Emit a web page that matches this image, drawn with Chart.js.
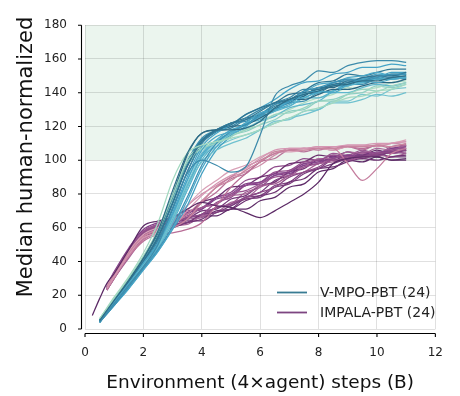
<!DOCTYPE html>
<html><head><meta charset="utf-8">
<script src="https://cdn.jsdelivr.net/npm/chart.js@4/dist/chart.umd.min.js"></script>
<style>html,body{margin:0;padding:0;background:#fff;}</style>
</head><body>
<canvas id="c" width="460" height="396"></canvas>
<script>
// ---------------- data ----------------
const seriesLabels = ['V-MPO-PBT (24)', 'IMPALA-PBT (24)'];
const xTicks = [0, 2, 4, 6, 8, 10, 12];
const yTicks = [0, 20, 40, 60, 80, 100, 120, 140, 160, 180];
const shadeRange = [100, 180];
const xTitle = 'Environment (4\u00d7agent) steps (B)';
const yTitle = 'Median human-normalized';

const vmpoSteps = [0.5, 1, 1.5, 2, 2.5, 3, 3.5, 4, 4.5, 5, 5.5, 6, 6.5, 7, 7.5, 8, 8.5, 9, 9.5, 10, 10.5, 11];
const vmpoRuns = [
  [5, 17, 29, 42, 58, 82, 104, 116, 118, 118, 119, 123, 131, 136, 139, 141, 144, 145, 147, 147, 149, 150],
  [4, 15, 26, 37, 50, 72, 92, 100, 97, 93, 96, 115, 138, 144, 147, 153, 152, 156, 158, 159, 159, 158],
  [6, 19, 31, 45, 63, 88, 104, 109, 111, 113, 115, 118, 122, 125, 129, 131, 134, 137, 138, 141, 142, 145],
  [5, 16, 27, 39, 51, 68, 88, 106, 114, 117, 122, 128, 130, 133, 139, 141, 140, 145, 147, 146, 148, 149],
  [4, 14, 25, 36, 47, 61, 78, 97, 110, 117, 121, 127, 133, 135, 141, 143, 146, 148, 147, 149, 151, 151],
  [5, 16, 28, 40, 54, 74, 96, 111, 118, 121, 127, 131, 134, 139, 140, 142, 145, 146, 149, 150, 150, 152],
  [5, 16, 27, 38, 49, 64, 84, 99, 106, 110, 113, 118, 122, 125, 127, 130, 134, 134, 136, 139, 138, 140],
  [6, 18, 30, 43, 58, 79, 99, 107, 110, 114, 118, 121, 127, 128, 131, 135, 135, 139, 142, 141, 144, 146],
  [4, 14, 24, 35, 46, 60, 76, 95, 108, 115, 120, 127, 131, 135, 140, 145, 146, 149, 150, 152, 150, 152],
  [5, 16, 28, 40, 55, 75, 97, 112, 118, 122, 124, 129, 134, 136, 141, 146, 147, 151, 150, 152, 154, 154],
  [5, 15, 27, 38, 51, 69, 90, 108, 116, 121, 127, 131, 136, 142, 146, 147, 151, 152, 155, 155, 157, 156],
  [5, 17, 29, 42, 57, 79, 103, 116, 118, 120, 121, 125, 130, 136, 136, 139, 142, 142, 144, 146, 146, 148],
  [4, 15, 26, 37, 48, 63, 82, 100, 110, 116, 121, 125, 129, 132, 137, 137, 141, 144, 146, 148, 148, 150],
  [5, 16, 27, 38, 50, 67, 88, 104, 112, 116, 119, 123, 126, 131, 133, 135, 140, 140, 143, 145, 144, 146],
  [6, 18, 30, 43, 59, 80, 101, 108, 111, 115, 118, 123, 127, 130, 134, 137, 139, 143, 142, 143, 146, 147],
  [5, 16, 28, 40, 53, 71, 93, 110, 117, 120, 125, 130, 134, 137, 142, 142, 146, 147, 147, 150, 149, 150],
  [4, 15, 26, 37, 48, 64, 84, 102, 111, 116, 122, 124, 130, 132, 137, 140, 141, 146, 146, 149, 148, 149],
  [5, 17, 29, 42, 56, 76, 97, 106, 111, 115, 117, 121, 124, 129, 130, 135, 136, 139, 140, 144, 143, 145],
  [5, 16, 27, 39, 52, 71, 93, 110, 117, 122, 125, 127, 133, 136, 138, 143, 143, 147, 146, 148, 149, 148],
  [4, 14, 24, 35, 46, 59, 73, 92, 106, 114, 120, 126, 129, 135, 137, 141, 145, 145, 149, 149, 152, 152],
  [5, 16, 28, 41, 55, 76, 99, 113, 118, 122, 123, 128, 130, 134, 135, 140, 141, 145, 145, 148, 148, 149],
  [5, 16, 27, 38, 50, 66, 86, 102, 108, 112, 115, 118, 123, 124, 129, 130, 135, 135, 139, 138, 142, 143],
  [4, 15, 26, 37, 49, 65, 85, 103, 112, 118, 121, 127, 130, 136, 138, 143, 144, 148, 148, 151, 150, 151],
  [5, 16, 28, 41, 56, 77, 99, 112, 117, 119, 124, 126, 132, 134, 139, 140, 144, 144, 148, 148, 151, 151]
];

const impalaSteps = [0.25, 0.5, 0.75, 1, 1.5, 2, 2.5, 3, 3.5, 4, 4.5, 5, 5.5, 6, 6.5, 7, 7.5, 8, 8.5, 9, 9.5, 10, 10.5, 11];
const impalaRuns = [
  [8, 18, 27, 33, 47, 61, 64, 66, 71, 75, 73, 72, 69, 66, 70, 75, 80, 87, 98, 101, 102, 102, 100, 100],
  [null, null, 24, 31, 44, 54, 57, 61, 70, 79, 86, 91, 95, 101, 106, 107, 107, 108, 108, 109, 109, 110, 110, 111],
  [null, null, 25, 32, 45, 55, 58, 60, 65, 75, 84, 88, 94, 99, 105, 106, 106, 107, 107, 108, 108, 109, 108, 110],
  [null, null, 23, 30, 43, 53, 58, 62, 68, 76, 84, 90, 96, 100, 104, 106, 107, 107, 107, 98, 88, 95, 104, 107],
  [null, null, 26, 33, 46, 56, 60, 63, 73, 82, 88, 94, 97, 102, 105, 105, 106, 107, 106, 108, 108, 109, 110, 112],
  [null, null, 24, 31, 43, 52, 56, 57, 59, 63, 73, 84, 92, 99, 104, 106, 107, 106, 108, 108, 107, 109, 110, 109],
  [null, null, 25, 32, 45, 55, 59, 64, 73, 80, 85, 90, 93, 97, 103, 107, 107, 108, 107, 109, 109, 108, 110, 111],
  [null, null, 25, 32, 46, 57, 61, 63, 66, 68, 72, 74, 78, 81, 84, 90, 93, 96, 101, 102, 102, 104, 105, 106],
  [null, null, 24, 31, 45, 56, 60, 62, 63, 68, 69, 73, 77, 78, 84, 86, 92, 95, 98, 101, 103, 103, 105, 106],
  [null, null, 26, 33, 47, 58, 62, 65, 67, 72, 74, 80, 82, 86, 90, 91, 96, 98, 100, 100, 102, 104, 104, 105],
  [null, null, 23, 30, 43, 54, 58, 60, 63, 65, 70, 71, 76, 79, 81, 87, 89, 95, 96, 99, 101, 100, 102, 103],
  [null, null, 25, 32, 46, 57, 61, 65, 66, 72, 74, 79, 80, 85, 86, 91, 93, 98, 99, 102, 101, 103, 102, 104],
  [null, null, 26, 34, 48, 59, 63, 66, 70, 72, 78, 80, 86, 87, 92, 93, 98, 99, 101, 103, 102, 105, 105, 107],
  [null, null, 24, 31, 44, 55, 59, 62, 66, 68, 75, 78, 85, 87, 93, 94, 99, 100, 103, 102, 105, 104, 106, 108],
  [null, null, 25, 32, 45, 56, 60, 63, 65, 70, 71, 77, 79, 85, 87, 93, 95, 100, 100, 103, 101, 104, 102, 102],
  [null, null, 23, 30, 42, 53, 57, 61, 62, 67, 69, 75, 77, 84, 87, 94, 96, 101, 101, 105, 104, 107, 106, 109],
  [null, null, 25, 33, 46, 57, 61, 64, 69, 71, 77, 79, 85, 86, 91, 92, 97, 98, 102, 101, 104, 103, 107, 108],
  [null, null, 24, 32, 45, 56, 60, 61, 65, 66, 72, 74, 81, 84, 91, 93, 98, 99, 104, 103, 106, 104, 107, 107],
  [null, null, 26, 33, 47, 58, 62, 66, 68, 75, 78, 84, 85, 90, 92, 98, 99, 103, 102, 105, 103, 106, 104, 106],
  [null, null, 25, 32, 46, 57, 60, 62, 63, 67, 67, 71, 71, 76, 78, 84, 86, 93, 95, 100, 99, 102, 100, 101],
  [null, null, 24, 31, 44, 55, 59, 62, 66, 67, 72, 73, 78, 79, 85, 87, 93, 95, 100, 100, 103, 102, 105, 104],
  [null, null, 25, 32, 46, 56, 60, 64, 66, 75, 81, 89, 92, 99, 101, 106, 105, 107, 106, 108, 106, 109, 107, 109],
  [null, null, 26, 33, 47, 57, 61, 63, 69, 71, 78, 81, 88, 90, 96, 97, 101, 100, 103, 102, 105, 104, 108, 109],
  [null, null, 24, 31, 44, 55, 59, 60, 64, 64, 69, 71, 78, 81, 88, 91, 97, 98, 102, 101, 104, 103, 106, 106]
];

// ---------------- styles ----------------
const FONT = "'DejaVu Sans', 'Liberation Sans', sans-serif";
const vmpoColors = ['#2e6d87','#3d8bab','#a3d9c0','#49a6c6','#3c91b4','#2f7391','#6fc1cf','#9ad4c0',
  '#4aa8c9','#327a98','#45a3c7','#2b6682','#56b2cc','#5fb7cd','#acdcc4','#3a88a9',
  '#4fadca','#8ecfc3','#2c6a85','#42a0c3','#3b8eb0','#7ac6d0','#4aa6c7','#35809f'];
const impalaColors = ['#5c2a66','#d597b3','#c9859f','#c47c9d','#d9a1b7','#b86d96','#cf8fab',
  '#8c4a87','#7b3d7d','#9a5590','#6e3272','#a35f93','#85428a','#934d8c','#743778','#a8679a',
  '#80408a','#9b5892','#6a2f6e','#5e2b68','#7e3f80','#b77399','#8f4b8b','#713576'];
const legendColors = ['#387b93', '#7d4581'];

function toPoints(xs, ys) { return xs.map((x, i) => ({x: x, y: ys[i]})); }

const datasets = [];
vmpoRuns.forEach((r, i) => datasets.push({
  data: toPoints(vmpoSteps, r), borderColor: vmpoColors[i], borderWidth: 1.25,
  pointRadius: 0, cubicInterpolationMode: 'monotone', fill: false
}));
impalaRuns.forEach((r, i) => datasets.push({
  data: toPoints(impalaSteps, r), borderColor: impalaColors[i], borderWidth: 1.25,
  pointRadius: 0, cubicInterpolationMode: 'monotone', fill: false
}));

const decor = {
  id: 'decor',
  beforeDraw(chart) {
    const {ctx, chartArea: a, scales: {y}} = chart;
    ctx.save();
    ctx.fillStyle = '#ffffff';
    ctx.fillRect(0, 0, chart.width, chart.height);
    const yt = y.getPixelForValue(shadeRange[1]);
    const yb = y.getPixelForValue(shadeRange[0]);
    ctx.fillStyle = '#ebf5ee';
    ctx.fillRect(a.left, yt, a.right - a.left, yb - yt);
    ctx.restore();
  },
  afterDraw(chart) {
    const {ctx, chartArea: a, scales: {x, y}} = chart;
    ctx.save();
    ctx.strokeStyle = '#000';
    ctx.lineWidth = 1.1;
    const sx = a.left - 3.5, sy = a.bottom + 4.5;
    ctx.beginPath();
    ctx.moveTo(sx, y.getPixelForValue(yTicks[yTicks.length - 1]));
    ctx.lineTo(sx, y.getPixelForValue(yTicks[0]));
    ctx.moveTo(x.getPixelForValue(xTicks[0]), sy);
    ctx.lineTo(x.getPixelForValue(xTicks[xTicks.length - 1]), sy);
    yTicks.forEach(v => { const p = y.getPixelForValue(v); ctx.moveTo(sx, p); ctx.lineTo(sx - 3.5, p); });
    xTicks.forEach(v => { const p = x.getPixelForValue(v); ctx.moveTo(p, sy); ctx.lineTo(p, sy + 3.5); });
    ctx.stroke();

    // legend
    ctx.font = '14px ' + FONT;
    ctx.textBaseline = 'middle';
    ctx.textAlign = 'left';
    [292.5, 312.5].forEach((ly, i) => {
      ctx.strokeStyle = legendColors[i];
      ctx.lineWidth = 1.8;
      ctx.beginPath(); ctx.moveTo(277, ly); ctx.lineTo(307, ly); ctx.stroke();
      ctx.fillStyle = '#222';
      ctx.fillText(seriesLabels[i], 320, ly + 1);
    });

    // axis titles
    ctx.fillStyle = '#111';
    ctx.textAlign = 'center';
    ctx.textBaseline = 'alphabetic';
    ctx.font = '18.5px ' + FONT;
    ctx.fillText(xTitle, (a.left + a.right) / 2, 388);
    ctx.translate(32, 157);
    ctx.rotate(-Math.PI / 2);
    ctx.font = '21px ' + FONT;
    ctx.fillText(yTitle, 0, 0);
    ctx.restore();
  }
};

new Chart(document.getElementById('c'), {
  type: 'line',
  data: {datasets: datasets},
  options: {
    responsive: false,
    animation: false,
    devicePixelRatio: 1,
    layout: {padding: {top: 12, right: 9, left: 0, bottom: 0}},
    plugins: {legend: {display: false}, tooltip: {enabled: false}},
    scales: {
      x: {
        type: 'linear', min: 0, max: 12,
        afterBuildTicks: s => { s.ticks = xTicks.map(v => ({value: v})); },
        afterFit: s => { s.height = 67; },
        border: {display: false},
        grid: {color: 'rgba(0,0,0,0.12)', lineWidth: 1, drawTicks: false},
        ticks: {padding: 17, color: '#222', font: {family: FONT, size: 12}, maxRotation: 0}
      },
      y: {
        type: 'linear', min: 0, max: 180,
        afterBuildTicks: s => { s.ticks = yTicks.map(v => ({value: v})); },
        afterFit: s => { s.width = 85; },
        border: {display: false},
        grid: {color: 'rgba(0,0,0,0.12)', lineWidth: 1, drawTicks: false},
        ticks: {padding: 18, color: '#222', font: {family: FONT, size: 12}}
      }
    }
  },
  plugins: [decor]
});
</script>
</body></html>
